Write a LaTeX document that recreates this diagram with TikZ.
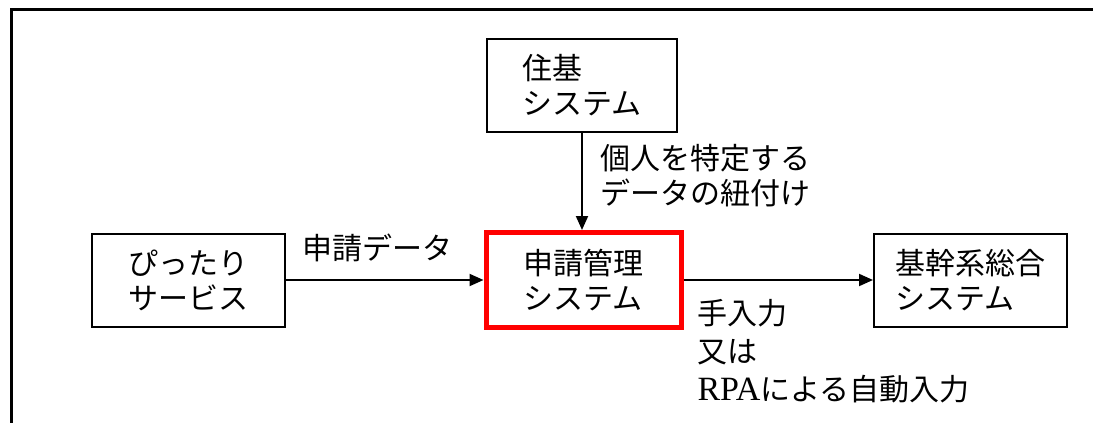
\documentclass[tikz,border=0pt]{standalone}
\usepackage{fontspec}
\newfontfamily\jpfont{Noto Sans CJK JP}
\newfontfamily\latinfont{Liberation Serif}
\usetikzlibrary{arrows.meta}

\tikzset{
    sysbox/.style={draw, line width=2pt, minimum width=193pt, minimum height=93pt,
	inner sep=0pt, align=left, font=\jpfont\fontsize{30}{35}\selectfont},
    flow/.style={line width=2pt, -{Triangle[length=14pt, width=12pt]}},
    note/.style={inner sep=0pt, align=left, font=\jpfont\fontsize{30}{35}\selectfont}
}

\begin{document}
\begin{tikzpicture}[x=1pt, y=-1pt]
    \useasboundingbox (0, 0) rectangle (1093, 423);
    \draw[line width=3pt] (1093, 9) -- (11, 9) -- (11, 423);
    \node[sysbox, minimum width=190pt] (juki) at (582, 85.5) {住基\\システム};
    \node[sysbox] (pittari) at (188.5, 280) {ぴったり\\サービス};
    \node[sysbox, draw=red, line width=5pt, minimum width=195pt, minimum height=95pt]
	(shinsei) at (583.5, 280) {申請管理\\システム};
    \node[sysbox] (kikan) at (970.5, 280) {基幹系総合\\システム};
    \draw[flow] (pittari) -- (shinsei)
	node [note, midway, above=17pt, xshift=-7pt] {申請データ};
    \draw[flow] (juki.south) -- (juki.south |- shinsei.north)
	node [note, midway, right=17pt, yshift=6pt] {個人を特定する\\データの紐付け};
    \draw[flow] (shinsei) -- (kikan)
	node [note, at start, anchor=north west, xshift=13pt, yshift=-18pt,
	    font=\jpfont\fontsize{30}{38}\selectfont]
	{手入力\\又は\\{\latinfont\fontsize{34}{38}\selectfont RPA}による自動入力};
\end{tikzpicture}
\end{document}
